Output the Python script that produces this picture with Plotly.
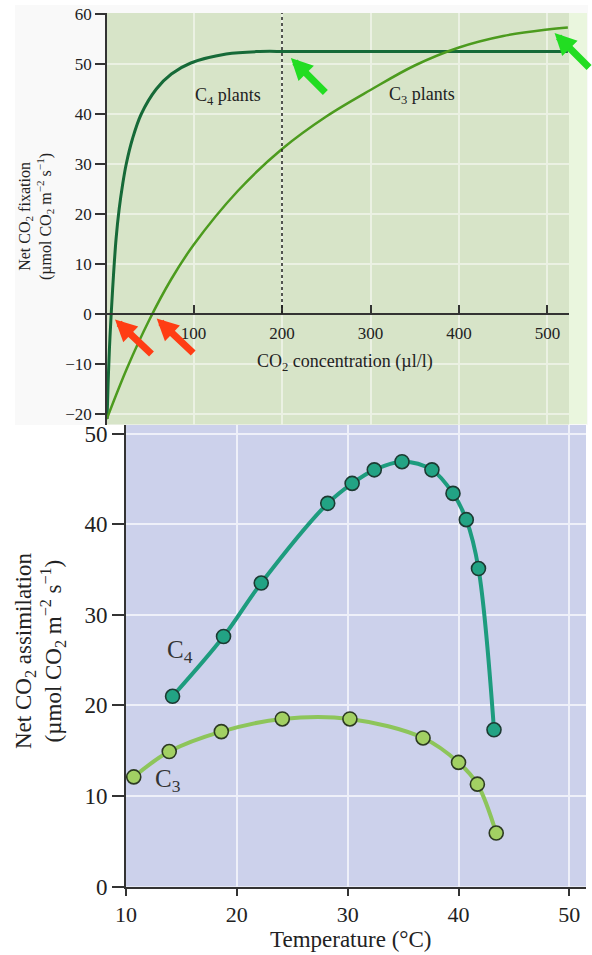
import plotly.graph_objects as go

W, H = 592, 955

# ---------------- Top chart: net CO2 fixation vs CO2 concentration ----------------
co2_c4 = [2.3, 3.5, 5, 7, 9.5, 12.5, 16, 20, 24, 31, 41, 58, 75, 97, 137, 175, 210, 523]
fix_c4 = [-21, -14, -7, 0, 7.5, 15, 21, 26, 30, 35, 40, 45, 48, 50.2, 52, 52.5, 52.5, 52.5]
co2_c3 = [2, 25, 50, 75, 100, 150, 200, 250, 300, 350, 400, 450, 500, 523]
fix_c3 = [-21, -10.8, -1.2, 7, 13.8, 24.6, 33, 39.5, 44.8, 49.7, 53.3, 55.6, 56.9, 57.3]
top_xticks = [100, 200, 300, 400, 500]
top_yticks = [-20, -10, 0, 10, 20, 30, 40, 50, 60]
saturation_co2 = 200
# arrow targets (compensation points in red, saturation points in green)
red_arrow_x = [11.3, 58.4]
red_arrow_y = [-1.1, -0.9]
green_arrow_x = [210, 508]
green_arrow_y = [51.2, 56.2]

# ---------------- Bottom chart: net CO2 assimilation vs temperature ----------------
temp_c4 = [14.2, 18.8, 22.2, 28.2, 30.4, 32.4, 34.9, 37.6, 39.5, 40.7, 41.8, 43.2]
assim_c4 = [21.0, 27.6, 33.5, 42.3, 44.5, 46.0, 46.9, 46.0, 43.4, 40.5, 35.1, 17.3]
temp_c3 = [10.7, 13.9, 18.6, 24.1, 30.2, 36.8, 40.0, 41.7, 43.4]
assim_c3 = [12.1, 14.9, 17.1, 18.5, 18.5, 16.4, 13.7, 11.3, 5.9]
bot_xticks = [10, 20, 30, 40, 50]
bot_yticks = [0, 10, 20, 30, 40, 50]

SERIF = "Liberation Serif"


def pxx(p):
    return p / W


def pxy(p):
    return 1 - p / H


fig = go.Figure()

fig.add_trace(go.Scatter(x=co2_c4, y=fix_c4, mode="lines", xaxis="x", yaxis="y",
                         line=dict(color="#166a38", width=3, shape="spline"),
                         showlegend=False, hoverinfo="skip"))
fig.add_trace(go.Scatter(x=co2_c3, y=fix_c3, mode="lines", xaxis="x", yaxis="y",
                         line=dict(color="#4c9b1e", width=2.5, shape="spline"),
                         showlegend=False, hoverinfo="skip"))

fig.add_trace(go.Scatter(x=temp_c4, y=assim_c4, mode="lines+markers", xaxis="x2", yaxis="y2",
                         line=dict(color="#1d9c7e", width=4, shape="spline"),
                         marker=dict(size=14, color="#22a384", line=dict(color="#1c3a32", width=1.6)),
                         showlegend=False, hoverinfo="skip"))
fig.add_trace(go.Scatter(x=temp_c3, y=assim_c3, mode="lines+markers", xaxis="x2", yaxis="y2",
                         line=dict(color="#8dc55a", width=4, shape="spline"),
                         marker=dict(size=14, color="#a2d063", line=dict(color="#2c3a22", width=1.6)),
                         showlegend=False, hoverinfo="skip"))

shapes = [
    # top image light backdrop
    dict(type="rect", xref="paper", yref="paper", x0=pxx(15), x1=pxx(588), y0=pxy(425), y1=pxy(5),
         fillcolor="#f9f9f9", line=dict(width=0), layer="below"),
    # top plot background
    dict(type="rect", xref="x domain", yref="y domain", x0=0, x1=1, y0=0, y1=1,
         fillcolor="#d7e4c8", line=dict(width=0), layer="below"),
    # light strip on the right of the top plot
    dict(type="rect", xref="paper", yref="paper", x0=pxx(569), x1=pxx(587), y0=pxy(424), y1=pxy(13),
         fillcolor="#eaf6de", line=dict(width=0), layer="below"),
    # bottom plot background
    dict(type="rect", xref="x2 domain", yref="y2 domain", x0=0, x1=1, y0=0, y1=1,
         fillcolor="#ccd1eb", line=dict(width=0), layer="below"),
    # dashed reference line at saturation
    dict(type="line", xref="x", yref="y domain", x0=saturation_co2, x1=saturation_co2,
         y0=(0 + 22.1) / (60.2 + 22.1), y1=1,
         line=dict(color="#222222", width=1.5, dash="3px,3px")),
]

annotations = [
    dict(text="Net CO<sub>2</sub> fixation<br>(µmol CO<sub>2</sub> m<sup>−2</sup> s<sup>−1</sup>)",
         xref="paper", yref="paper", x=pxx(36), y=pxy(217), textangle=-90, showarrow=False,
         font=dict(family=SERIF, size=16, color="#222"), xanchor="center", yanchor="middle"),
    dict(text="CO<sub>2</sub> concentration (µl/l)", xref="paper", yref="paper",
         x=pxx(345), y=pxy(362), showarrow=False,
         font=dict(family=SERIF, size=18, color="#222"), xanchor="center", yanchor="middle"),
    dict(text="C<sub>4</sub> plants", xref="x", yref="y", x=139, y=43.6, showarrow=False,
         font=dict(family=SERIF, size=18, color="#222")),
    dict(text="C<sub>3</sub> plants", xref="x", yref="y", x=358, y=43.7, showarrow=False,
         font=dict(family=SERIF, size=18, color="#222")),
    dict(text="Net CO<sub>2</sub> assimilation<br>(µmol CO<sub>2</sub> m<sup>−2</sup> s<sup>−1</sup>)",
         xref="paper", yref="paper", x=pxx(40), y=pxy(651), textangle=-90, showarrow=False,
         font=dict(family=SERIF, size=23, color="#222"), xanchor="center", yanchor="middle"),
    dict(text="Temperature (°C)", xref="paper", yref="paper", x=pxx(350), y=pxy(939),
         showarrow=False, font=dict(family=SERIF, size=23, color="#222"),
         xanchor="center", yanchor="middle"),
    dict(text="C<sub>4</sub>", xref="x2", yref="y2", x=14.9, y=25.9, showarrow=False,
         font=dict(family=SERIF, size=25, color="#333")),
    dict(text="C<sub>3</sub>", xref="x2", yref="y2", x=13.8, y=11.75, showarrow=False,
         font=dict(family=SERIF, size=25, color="#333")),
]

for ax_, ay_ in zip(red_arrow_x, red_arrow_y):
    annotations.append(dict(x=ax_, y=ay_, xref="x", yref="y", text="", showarrow=True,
                            ax=38, ay=36, arrowhead=2, arrowsize=0.62, arrowwidth=7,
                            arrowcolor="#ff3d14", standoff=0))
for ax_, ay_ in zip(green_arrow_x, green_arrow_y):
    annotations.append(dict(x=ax_, y=ay_, xref="x", yref="y", text="", showarrow=True,
                            ax=36, ay=36, arrowhead=2, arrowsize=0.62, arrowwidth=7,
                            arrowcolor="#22dd22", standoff=0))

fig.update_layout(
    width=W, height=H,
    autosize=False,
    margin=dict(l=0, r=0, t=0, b=0, pad=0),
    paper_bgcolor="white",
    plot_bgcolor="rgba(0,0,0,0)",
    showlegend=False,
    shapes=shapes,
    annotations=annotations,
    xaxis=dict(domain=[pxx(107), pxx(569)], range=[2.26, 524.3], anchor="free",
               position=pxy(314), side="bottom", automargin=False,
               showline=True, linecolor="#333", linewidth=1.5,
               ticks="inside", ticklen=8, tickwidth=1.5, tickcolor="#333",
               tickvals=top_xticks, ticktext=[str(v) for v in top_xticks],
               ticklabelstandoff=4,
               tickfont=dict(family=SERIF, size=17, color="#222"),
               showgrid=True, gridcolor="#ebf1e3", gridwidth=1.5, zeroline=False),
    yaxis=dict(domain=[pxy(424.5), pxy(13)], range=[-22.1, 60.2], anchor="x",
               automargin=False,
               showline=True, linecolor="#333", linewidth=1.5,
               ticks="outside", ticklen=10, tickwidth=1.5, tickcolor="#333",
               tickvals=top_yticks, ticktext=[str(v).replace("-", "−") for v in top_yticks],
               tickfont=dict(family=SERIF, size=17, color="#222"),
               showgrid=True, gridcolor="#ebf1e3", gridwidth=1.5, zeroline=False),
    xaxis2=dict(domain=[pxx(126), pxx(586)], range=[10, 51.5], anchor="y2",
                automargin=False,
                showline=True, linecolor="#333", linewidth=2,
                ticks="outside", ticklen=7, tickwidth=2, tickcolor="#333",
                tickvals=bot_xticks,
                tickfont=dict(family=SERIF, size=22, color="#222"),
                showgrid=True, gridcolor="#eef0f9", gridwidth=2, zeroline=False),
    yaxis2=dict(domain=[pxy(886.5), pxy(425)], range=[0, 50.95], anchor="x2",
                automargin=False,
                showline=True, linecolor="#333", linewidth=2,
                ticks="outside", ticklen=12, tickwidth=2, tickcolor="#333",
                tickvals=bot_yticks,
                tickfont=dict(family=SERIF, size=23, color="#222"),
                showgrid=True, gridcolor="#eef0f9", gridwidth=2, zeroline=False),
)

fig.write_html("out.html",
               config={"displayModeBar": False, "responsive": False},
               post_script="document.body.style.margin='0';document.body.style.overflow='hidden';")
